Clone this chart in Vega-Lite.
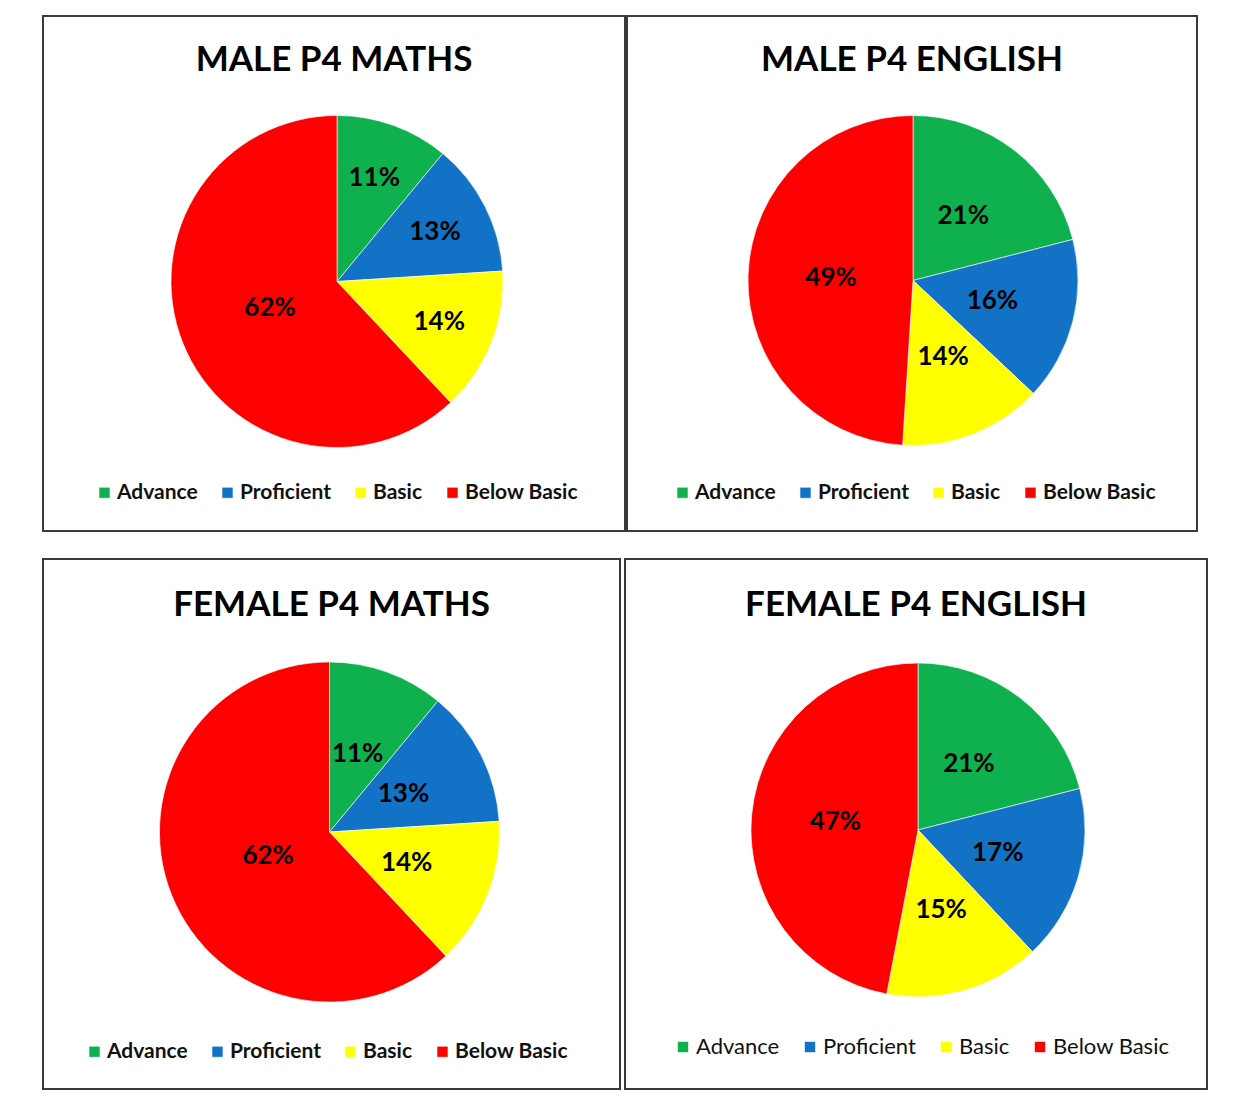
{
  "$schema": "https://vega.github.io/schema/vega-lite/v6.json",
  "background": "white",
  "padding": {"left": 42, "top": 15, "right": 0, "bottom": 0},
  "config": {
    "view": {"stroke": "#3a3a3a", "strokeWidth": 2},
    "font": "Lato",
    "title": {"font": "Lato", "fontSize": 35, "fontWeight": "bold", "color": "#000000", "anchor": "middle", "offset": -62},
    "legend": {"orient": "none", "direction": "horizontal", "columns": 4, "symbolType": "square", "symbolSize": 121, "symbolStrokeWidth": 0, "labelFont": "Lato", "labelFontSize": 21, "labelColor": "#111111", "columnPadding": 19, "labelOffset": 2, "title": null, "padding": 0},
    "arc": {"stroke": "#ffffff", "strokeWidth": 1, "strokeOpacity": 0.6},
    "text": {"font": "Lato", "fontSize": 26, "fontWeight": "bold", "color": "#000000"}
  },
  "spacing": 26,
  "resolve": {"legend": {"color": "independent"}},
  "vconcat": [
    {
      "spacing": 0,
      "resolve": {"legend": {"color": "independent"}},
      "hconcat": [
        {
          "width": 582, "height": 515,
          "view": {"stroke": "#3a3a3a", "strokeWidth": 2},
          "title": "MALE P4 MATHS",
          "data": {"values": [
            {"level": "Advance", "k": 1, "pct": 0.11},
            {"level": "Proficient", "k": 2, "pct": 0.13},
            {"level": "Basic", "k": 3, "pct": 0.14},
            {"level": "Below Basic", "k": 4, "pct": 0.62}
          ]},
          "encoding": {
            "theta": {"field": "pct", "type": "quantitative", "stack": true},
            "order": {"field": "k", "type": "quantitative"}
          },
          "layer": [
            {"mark": {"type": "arc", "radius": 166, "xOffset": 3, "yOffset": 8},
              "encoding": {"color": {"field": "level", "type": "nominal", "sort": ["Advance", "Proficient", "Basic", "Below Basic"],
                "scale": {"domain": ["Advance", "Proficient", "Basic", "Below Basic"], "range": ["#0fb14f", "#1273c6", "#ffff00", "#ff0000"]},
                "legend": {"legendX": 51, "legendY": 466, "labelFontWeight": "bold"}}}},
            {"mark": {"type": "text", "radius": 110, "xOffset": 3, "yOffset": 8},
              "encoding": {"text": {"condition": {"test": "datum.pct < 0.4", "field": "pct", "type": "quantitative", "format": ".0%"}, "value": ""}}},
            {"mark": {"type": "text", "radius": 72, "xOffset": 3, "yOffset": 8},
              "encoding": {"text": {"condition": {"test": "datum.pct >= 0.4", "field": "pct", "type": "quantitative", "format": ".0%"}, "value": ""}}}
          ]
        },
        {
          "width": 570, "height": 515,
          "view": {"stroke": "#3a3a3a", "strokeWidth": 2},
          "title": "MALE P4 ENGLISH",
          "data": {"values": [
            {"level": "Advance", "k": 1, "pct": 0.21},
            {"level": "Proficient", "k": 2, "pct": 0.16},
            {"level": "Basic", "k": 3, "pct": 0.14},
            {"level": "Below Basic", "k": 4, "pct": 0.49}
          ]},
          "encoding": {
            "theta": {"field": "pct", "type": "quantitative", "stack": true},
            "order": {"field": "k", "type": "quantitative"}
          },
          "layer": [
            {"mark": {"type": "arc", "radius": 165, "xOffset": 1, "yOffset": 7},
              "encoding": {"color": {"field": "level", "type": "nominal", "sort": ["Advance", "Proficient", "Basic", "Below Basic"],
                "scale": {"domain": ["Advance", "Proficient", "Basic", "Below Basic"], "range": ["#0fb14f", "#1273c6", "#ffff00", "#ff0000"]},
                "legend": {"legendX": 45, "legendY": 466, "labelFontWeight": "bold"}}}},
            {"mark": {"type": "text", "radius": 82, "xOffset": 1, "yOffset": 7},
              "encoding": {"text": {"field": "pct", "type": "quantitative", "format": ".0%"}}}
          ]
        }
      ]
    },
    {
      "spacing": 3,
      "resolve": {"legend": {"color": "independent"}},
      "hconcat": [
        {
          "width": 577, "height": 530,
          "view": {"stroke": "#3a3a3a", "strokeWidth": 2},
          "title": {"text": "FEMALE P4 MATHS", "offset": -64},
          "data": {"values": [
            {"level": "Advance", "k": 1, "pct": 0.11},
            {"level": "Proficient", "k": 2, "pct": 0.13},
            {"level": "Basic", "k": 3, "pct": 0.14},
            {"level": "Below Basic", "k": 4, "pct": 0.62}
          ]},
          "encoding": {
            "theta": {"field": "pct", "type": "quantitative", "stack": true},
            "order": {"field": "k", "type": "quantitative"}
          },
          "layer": [
            {"mark": {"type": "arc", "radius": 170, "xOffset": -2, "yOffset": 8},
              "encoding": {"color": {"field": "level", "type": "nominal", "sort": ["Advance", "Proficient", "Basic", "Below Basic"],
                "scale": {"domain": ["Advance", "Proficient", "Basic", "Below Basic"], "range": ["#0fb14f", "#1273c6", "#ffff00", "#ff0000"]},
                "legend": {"legendX": 41, "legendY": 482, "labelFontWeight": "bold"}}}},
            {"mark": {"type": "text", "radius": 83, "xOffset": -2, "yOffset": 8},
              "encoding": {"text": {"condition": {"test": "datum.pct < 0.4", "field": "pct", "type": "quantitative", "format": ".0%"}, "value": ""}}},
            {"mark": {"type": "text", "radius": 66, "xOffset": -2, "yOffset": 8},
              "encoding": {"text": {"condition": {"test": "datum.pct >= 0.4", "field": "pct", "type": "quantitative", "format": ".0%"}, "value": ""}}}
          ]
        },
        {
          "width": 582, "height": 530,
          "view": {"stroke": "#3a3a3a", "strokeWidth": 2},
          "title": {"text": "FEMALE P4 ENGLISH", "offset": -64},
          "data": {"values": [
            {"level": "Advance", "k": 1, "pct": 0.21},
            {"level": "Proficient", "k": 2, "pct": 0.17},
            {"level": "Basic", "k": 3, "pct": 0.15},
            {"level": "Below Basic", "k": 4, "pct": 0.47}
          ]},
          "encoding": {
            "theta": {"field": "pct", "type": "quantitative", "stack": true},
            "order": {"field": "k", "type": "quantitative"}
          },
          "layer": [
            {"mark": {"type": "arc", "radius": 167, "xOffset": 2, "yOffset": 6},
              "encoding": {"color": {"field": "level", "type": "nominal", "sort": ["Advance", "Proficient", "Basic", "Below Basic"],
                "scale": {"domain": ["Advance", "Proficient", "Basic", "Below Basic"], "range": ["#0fb14f", "#1273c6", "#ffff00", "#ff0000"]},
                "legend": {"legendX": 47, "legendY": 477, "labelFontWeight": "normal", "labelFontSize": 22}}}},
            {"mark": {"type": "text", "radius": 83, "xOffset": 2, "yOffset": 6},
              "encoding": {"text": {"field": "pct", "type": "quantitative", "format": ".0%"}}}
          ]
        }
      ]
    }
  ]
}
